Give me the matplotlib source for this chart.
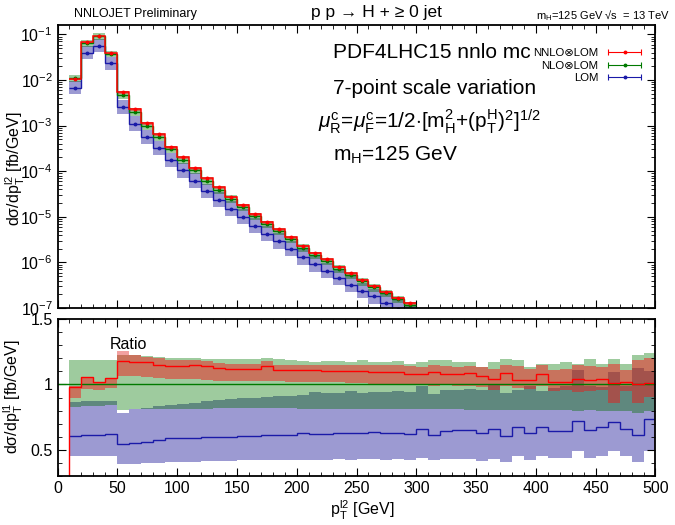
import numpy as np
import matplotlib
matplotlib.use('Agg')
import matplotlib.pyplot as plt
from matplotlib.ticker import MultipleLocator, LogLocator, NullFormatter, FixedLocator
from matplotlib.legend_handler import HandlerErrorbar
from matplotlib.container import ErrorbarContainer

plt.rcParams['font.family'] = ['Liberation Sans', 'DejaVu Sans']
plt.rcParams['mathtext.fontset'] = 'custom'
plt.rcParams['mathtext.rm'] = 'Liberation Sans'
plt.rcParams['mathtext.it'] = 'Liberation Sans:italic'
plt.rcParams['mathtext.bf'] = 'Liberation Sans:bold'

# ---------------- data ----------------
edges = np.arange(10, 510, 10)          # bin edges 10..500 GeV

# top panel: NNLO central cross section per bin (visible bins 10-300 GeV)
top_nnlo = [1.08e-2, 6.7e-2, 9.2e-2, 3.9e-2, 5.5e-3, 2.3e-3, 1.16e-3, 6.45e-4, 3.44e-4, 2.02e-4,
            1.19e-4, 6.98e-5, 4.43e-5, 2.76e-5, 1.82e-5, 1.15e-5, 7.8e-6, 5.3e-6, 3.55e-6, 2.32e-6,
            1.63e-6, 1.17e-6, 8.05e-7, 5.77e-7, 4.2e-7, 3.1e-7, 2.3e-7, 1.7e-7, 1.28e-7]

# ratios to NLO central
nnlo_r = [0.977, 1.058, 1.018, 1.046, 1.183, 1.172, 1.168, 1.152, 1.142, 1.140,
          1.145, 1.140, 1.125, 1.120, 1.118, 1.116, 1.138, 1.110, 1.108, 1.107,
          1.108, 1.105, 1.103, 1.105, 1.100, 1.098, 1.098, 1.095, 1.083, 1.080,
          1.095, 1.080, 1.080, 1.088, 1.065, 1.045, 1.085, 1.037, 1.035, 1.083,
          1.020, 1.022, 1.040, 1.035, 1.045, 1.010, 1.020, 1.005, 1.008]
nnlo_lo = [0.893, 0.964, 0.957, 0.975, 1.066, 1.066, 1.060, 1.050, 1.045, 1.040,
           1.040, 1.035, 1.030, 1.030, 1.028, 1.025, 1.030, 1.025, 1.020, 1.020,
           1.020, 1.015, 1.015, 1.010, 1.010, 1.005, 1.005, 1.000, 0.995, 1.000,
           0.990, 0.995, 0.990, 0.985, 0.980, 0.960, 0.985, 0.970, 0.965, 0.985,
           0.950, 0.955, 0.944, 0.950, 0.955, 0.862, 0.950, 0.855, 0.906]
nnlo_hi = [0.990, 1.060, 1.020, 1.050, 1.254, 1.225, 1.210, 1.200, 1.190, 1.185,
           1.185, 1.180, 1.165, 1.160, 1.160, 1.155, 1.178, 1.150, 1.150, 1.148,
           1.150, 1.145, 1.145, 1.150, 1.150, 1.145, 1.150, 1.145, 1.140, 1.130,
           1.150, 1.140, 1.135, 1.140, 1.130, 1.120, 1.150, 1.140, 1.120, 1.150,
           1.110, 1.120, 1.150, 1.140, 1.130, 1.160, 1.110, 1.185, 1.200]
nlo_lo = [0.830, 0.838, 0.838, 0.840, 0.805, 0.810, 0.812, 0.814, 0.815, 0.815,
          0.816, 0.816, 0.817, 0.817, 0.817, 0.817, 0.817, 0.817, 0.817, 0.815,
          0.815, 0.815, 0.815, 0.815, 0.815, 0.812, 0.812, 0.812, 0.810, 0.810,
          0.812, 0.810, 0.810, 0.808, 0.808, 0.805, 0.808, 0.805, 0.805, 0.808,
          0.805, 0.805, 0.800, 0.805, 0.800, 0.795, 0.800, 0.780, 0.800]
nlo_hi = [1.185, 1.185, 1.185, 1.185, 1.223, 1.222, 1.215, 1.210, 1.205, 1.200,
          1.200, 1.198, 1.198, 1.198, 1.195, 1.195, 1.200, 1.195, 1.190, 1.180,
          1.175, 1.178, 1.180, 1.175, 1.185, 1.172, 1.172, 1.178, 1.160, 1.168,
          1.185, 1.185, 1.172, 1.172, 1.135, 1.168, 1.195, 1.185, 1.135, 1.153,
          1.160, 1.170, 1.160, 1.198, 1.153, 1.198, 1.153, 1.223, 1.243]
lo_r = [0.609, 0.612, 0.614, 0.620, 0.543, 0.556, 0.563, 0.576, 0.587, 0.590,
        0.594, 0.597, 0.600, 0.601, 0.603, 0.609, 0.612, 0.614, 0.616, 0.627,
        0.625, 0.625, 0.630, 0.627, 0.627, 0.635, 0.627, 0.627, 0.619, 0.657,
        0.614, 0.645, 0.650, 0.652, 0.627, 0.657, 0.609, 0.672, 0.627, 0.672,
        0.647, 0.642, 0.720, 0.650, 0.672, 0.716, 0.657, 0.614, 0.734]
lo_lo = [0.450, 0.450, 0.450, 0.450, 0.391, 0.395, 0.398, 0.402, 0.405, 0.408,
         0.410, 0.412, 0.415, 0.418, 0.420, 0.420, 0.420, 0.422, 0.424, 0.424,
         0.426, 0.425, 0.428, 0.426, 0.428, 0.430, 0.426, 0.428, 0.422, 0.435,
         0.420, 0.430, 0.432, 0.430, 0.418, 0.432, 0.410, 0.450, 0.424, 0.450,
         0.440, 0.435, 0.490, 0.440, 0.450, 0.490, 0.455, 0.410, 0.490]
lo_hi = [0.863, 0.873, 0.873, 0.875, 0.780, 0.810, 0.820, 0.835, 0.845, 0.850,
         0.860, 0.870, 0.880, 0.885, 0.898, 0.900, 0.905, 0.910, 0.915, 0.918,
         0.939, 0.932, 0.932, 0.949, 0.932, 0.943, 0.945, 0.950, 0.945, 0.990,
         0.924, 0.955, 0.960, 0.965, 0.955, 1.000, 0.931, 0.960, 0.990, 0.950,
         0.975, 0.985, 1.108, 0.990, 0.980, 1.096, 0.985, 1.126, 1.100]

labels = ['NNLO\u2297LOM', 'NLO\u2297LOM', 'LOM']

# ---------------- style ----------------
c_red, c_green, c_blue = '#ff0000', '#007a00', '#1a1aa8'
combo = {'G': '#9ecb9e', 'B': '#9c9ad2', 'GB': '#5f887e', 'R': '#f2a0a0',
         'RG': '#c8735d', 'RB': '#a8607a', 'RGB': '#a3524c'}


def draw_bands(ax, left, bands, width=10):
    n = len(left)
    for i in range(n):
        pts = sorted(set(v for k in bands for v in (bands[k][0][i], bands[k][1][i])))
        for a, b in zip(pts[:-1], pts[1:]):
            key = ''.join(k for k in 'RGB' if bands[k][0][i] <= a and bands[k][1][i] >= b)
            if key:
                ax.bar(left[i], b - a, bottom=a, width=width, align='edge',
                       color=combo[key], linewidth=0, zorder=1)


fig = plt.figure(figsize=(6.75, 5.25), dpi=100)
ax1 = fig.add_axes([0.0852, 0.4133, 0.8859, 0.540])
ax2 = fig.add_axes([0.0852, 0.0933, 0.8859, 0.299])

# ---------------- top panel ----------------
nt = len(top_nnlo)
tn = np.array(top_nnlo)
nlo_xs = tn / np.array(nnlo_r[:nt])
lo_xs = nlo_xs * np.array(lo_r[:nt])
tb = {'R': (nlo_xs * np.array(nnlo_lo[:nt]), nlo_xs * np.array(nnlo_hi[:nt])),
      'G': (nlo_xs * np.array(nlo_lo[:nt]), nlo_xs * np.array(nlo_hi[:nt])),
      'B': (nlo_xs * np.array(lo_lo[:nt]), nlo_xs * np.array(lo_hi[:nt]))}
draw_bands(ax1, edges[:nt], tb)
te = edges[:nt + 1]
cent = (te[:-1] + te[1:]) / 2
ax1.stairs(lo_xs, te, baseline=None, color=c_blue, lw=1.0, zorder=3)
ax1.stairs(nlo_xs, te, baseline=None, color=c_green, lw=1.0, zorder=3)
ax1.stairs(tn, te, baseline=None, color=c_red, lw=1.1, zorder=3)
ax1.plot(cent, lo_xs, 'o', ms=1.8, color=c_blue, zorder=4)
ax1.plot(cent, nlo_xs, 'o', ms=1.8, color=c_green, zorder=4)
ax1.plot(cent, tn, 'o', ms=1.8, color=c_red, zorder=4)

ax1.set_yscale('log')
ax1.set_xlim(0, 500)
ax1.set_ylim(1e-7, 0.165)
ax1.xaxis.set_major_locator(MultipleLocator(50))
ax1.xaxis.set_minor_locator(MultipleLocator(10))
ax1.set_xticklabels([])
ax1.yaxis.set_major_locator(LogLocator(base=10, numticks=20))
ax1.yaxis.set_minor_locator(LogLocator(base=10, subs=np.arange(2, 10), numticks=20))
ax1.yaxis.set_minor_formatter(NullFormatter())

# legend
hs = []
for c in (c_red, c_green, c_blue):
    h = ax1.errorbar([np.nan], [np.nan], xerr=[1], fmt='o', ms=1.8, color=c,
                     capsize=2.5, elinewidth=0.8, capthick=0.8)
    hs.append(h)
ax1.legend(hs, labels, loc='upper right', bbox_to_anchor=(0.977, 0.918),
           frameon=False, markerfirst=False, fontsize=8.2, handlelength=3.0,
           labelspacing=0.25, borderpad=0, borderaxespad=0, handletextpad=0.8,
           handler_map={ErrorbarContainer: HandlerErrorbar(xerr_size=1.45)})

# texts
fig.text(333 / 675, 1 - 52 / 525, 'PDF4LHC15 nnlo mc', fontsize=15, va='center', ha='left')
fig.text(333 / 675, 1 - 89 / 525, '7-point scale variation', fontsize=15, va='center', ha='left')
fig.text(318 / 675, 1 - 122 / 525,
         r'$\mu_{\rm R}^{\rm c}$=$\mu_{\rm F}^{\rm c}$=1/2$\cdot$[m$_{\rm H}^{2}$+(p$_{\rm T}^{\rm H}$)$^{2}$]$^{1/2}$',
         fontsize=15, va='center', ha='left')
fig.text(333 / 675, 1 - 155 / 525, r'm$_{\rm H}$=125 GeV', fontsize=15, va='center', ha='left')

fig.text(135 / 675, 1 - 14 / 525, 'NNLOJET Preliminary', fontsize=9, va='center', ha='center')
fig.text(376 / 675, 1 - 13 / 525, 'p p \u2192 H + \u2265 0 jet', fontsize=12.5, va='center', ha='center')
fig.text(670 / 675, 1 - 16 / 525, 'm$_{\\rm H}$=125 GeV \u221as  = 13 TeV', fontsize=8, va='center', ha='right')

fig.text(15 / 675, 1 - 169 / 525, 'd\u03c3/dp$_{\\rm T}^{\\rm l2}$ [fb/GeV]', fontsize=11.5,
         rotation=90, va='center', ha='center')

# ---------------- ratio panel ----------------
rb = {'R': (np.array(nnlo_lo), np.array(nnlo_hi)),
      'G': (np.array(nlo_lo), np.array(nlo_hi)),
      'B': (np.array(lo_lo), np.array(lo_hi))}
draw_bands(ax2, edges[:-1], rb)
ax2.axhline(1.0, color=c_green, lw=1.0, zorder=3)
ax2.stairs(lo_r, edges, baseline=None, color=c_blue, lw=1.0, zorder=3)
ax2.stairs(nnlo_r, edges, baseline=0, color=c_red, lw=1.0, zorder=3)
ax2.set_xlim(0, 500)
ax2.set_ylim(0.3, 1.5)
ax2.xaxis.set_major_locator(MultipleLocator(50))
ax2.xaxis.set_minor_locator(MultipleLocator(10))
ax2.yaxis.set_major_locator(FixedLocator([0.5, 1.0, 1.5]))
ax2.yaxis.set_minor_locator(MultipleLocator(0.1))
ax2.set_yticklabels(['0.5', '1', '1.5'])
ax2.text(0.088, 0.835, 'Ratio', transform=ax2.transAxes, fontsize=11.5, va='center', ha='left')
fig.text(362 / 675, 1 - 510 / 525, r'p$_{\rm T}^{\rm l2}$ [GeV]', fontsize=11.5, va='center', ha='center')
fig.text(13 / 675, 1 - 397 / 525, 'd\u03c3/dp$_{\\rm T}^{\\rm l1}$ [fb/GeV]', fontsize=11.5,
         rotation=90, va='center', ha='center')

for ax in (ax1, ax2):
    ax.tick_params(which='both', direction='in', top=True, right=True, labelsize=11.5)
    ax.tick_params(which='major', length=6, width=0.8)
    ax.tick_params(which='minor', length=3, width=0.6)
    for s in ax.spines.values():
        s.set_linewidth(1.3)
        s.set_zorder(5)

fig.savefig('out.png', dpi=100)
